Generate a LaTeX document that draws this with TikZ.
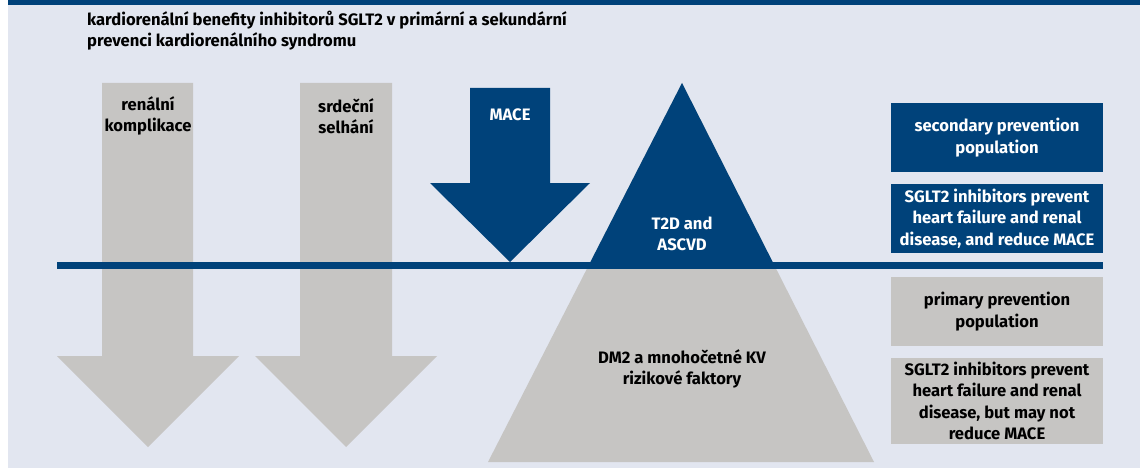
\documentclass[tikz,border=0pt]{standalone}
\usepackage{fontspec}
\setmainfont{Fira Sans}
\definecolor{navy}{RGB}{0,66,122}
\definecolor{stone}{RGB}{198,197,195}
\definecolor{mist}{RGB}{226,230,240}

\begin{document}
\begin{tikzpicture}[x=1pt, y=-1pt,
    lbl/.style={font=\bfseries\fontsize{16.6}{21.5}\selectfont, align=center, inner sep=0pt},
    whitelbl/.style={lbl, text=white},
    box/.style={lbl, minimum width=212pt},
    bluebox/.style={box, fill=navy, text=white},
    greybox/.style={box, fill=stone}]
    \useasboundingbox (0,0) rectangle (1140,468);
    \fill [mist] (8,0) rectangle (1140,468);
    \fill [navy] (8,0) rectangle (1140,5);
    % title
    \node [lbl, align=left, anchor=base west] (title) at (87,47)
      {kardiorenální benefity inhibitorů SGLT2 v primární a sekundární\\prevenci kardiorenálního syndromu};
    % grey arrows
    \fill [stone] (102,83) -- (193,83) -- (193,356) -- (239,356) -- (148,447) -- (57,356) -- (102,356) -- cycle;
    \fill [stone] (300,83) -- (392,83) -- (392,356) -- (437,356) -- (346,447) -- (255,356) -- (300,356) -- cycle;
    % MACE arrow
    \fill [navy] (470,88) -- (550,88) -- (550,183) -- (590,183) -- (510,262) -- (430,183) -- (470,183) -- cycle;
    % triangle
    \fill [stone] (682,83) -- (874,462) -- (488,462) -- cycle;
    \begin{scope}
      \clip (0,0) rectangle (1140,265);
      \fill [navy] (682,83) -- (874,462) -- (488,462) -- cycle;
    \end{scope}
    \draw [navy, line width=7pt] (57,265) -- (1103,265);
    \node [lbl] (renal) at (148,116) {renální\\komplikace};
    \node [lbl] (heart) at (346,116) {srdeční\\selhání};
    \node [whitelbl] (mace) at (510,115) {MACE};
    \node [whitelbl] (ascvd) at (682,234) {T2D and\\ASCVD};
    \node [lbl] (risk) at (682,369) {DM2 a mnohočetné KV\\rizikové faktory};
    % right column
    \node [bluebox, minimum height=69pt] (secpop) at (997,137.5) {secondary prevention\\population};
    \node [bluebox, minimum height=69pt] (secfx) at (997,218.5) {SGLT2 inhibitors prevent\\heart failure and renal\\disease, and reduce MACE};
    \node [greybox, minimum height=69pt] (primpop) at (997,311.5) {primary prevention\\population};
    \node [greybox, minimum height=86pt] (primfx) at (997,401) {SGLT2 inhibitors prevent\\heart failure and renal\\disease, but may not\\reduce MACE};
  \end{tikzpicture}
\end{document}
